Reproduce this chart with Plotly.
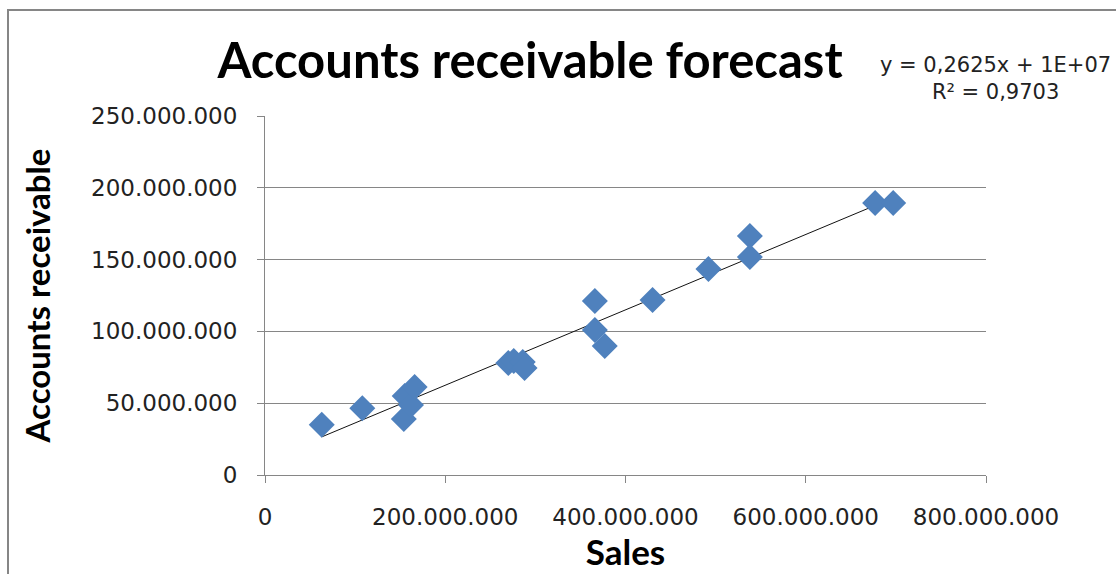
import plotly.graph_objects as go

# Sales vs accounts receivable observations
sales = [63e6, 108e6, 154e6, 155e6, 162e6, 166e6,
         270e6, 276e6, 286e6, 288e6,
         366e6, 366e6, 377e6, 430e6, 492e6,
         538e6, 538e6, 677e6, 697e6]
receivable = [35e6, 46.5e6, 39e6, 55e6, 48.7e6, 61.3e6,
              78e6, 79.4e6, 78.7e6, 74.5e6,
              121.2e6, 101e6, 89.8e6, 121.9e6, 143.5e6,
              166.4e6, 151.8e6, 189.4e6, 189.4e6]

# Linear trend reported on the chart
slope = 0.2625
intercept = 1e7
r_squared = 0.9703

x_ticks = [0, 200e6, 400e6, 600e6, 800e6]
y_ticks = [0, 50e6, 100e6, 150e6, 200e6, 250e6]

trend_x = [min(sales), max(sales)]
trend_y = [slope * v + intercept for v in trend_x]

fig = go.Figure()
fig.add_trace(go.Scatter(
    x=trend_x, y=trend_y, mode="lines",
    line=dict(color="#111111", width=1), hoverinfo="skip", showlegend=False))
fig.add_trace(go.Scatter(
    x=sales, y=receivable, mode="markers",
    marker=dict(symbol="diamond", size=20, color="#4F81BD",
                line=dict(width=0)),
    showlegend=False))

tick_font = dict(family="DejaVu Sans", size=23, color="#222222")
fig.update_layout(
    width=1116, height=574,
    margin=dict(l=265, r=130, t=116, b=99),
    paper_bgcolor="white", plot_bgcolor="white",
    separators=",.",
    title=dict(text="<b>Accounts receivable forecast</b>",
               font=dict(family="Lato", size=49, color="black"),
               x=530 / 1116, xanchor="center", y=1 - 61 / 574, yanchor="middle"),
    xaxis=dict(range=[0, 800e6], tickvals=x_ticks, tickformat=",.0f",
               showgrid=False, zeroline=False,
               showline=True, linecolor="#868686", linewidth=1,
               ticks="outside", ticklen=7, tickcolor="#868686",
               tickfont=tick_font, ticklabelstandoff=14,
               title=dict(text="<b>Sales</b>",
                          font=dict(family="Lato", size=35, color="black"),
                          standoff=8)),
    yaxis=dict(range=[0, 250e6], tickvals=y_ticks, tickformat=",.0f",
               showgrid=True, gridcolor="#868686", gridwidth=1,
               zeroline=False,
               showline=True, linecolor="#868686", linewidth=1,
               ticks="outside", ticklen=7, tickcolor="#868686",
               tickfont=tick_font, ticklabelstandoff=15,
               title=dict(text="<b>Accounts receivable</b>",
                          font=dict(family="Lato", size=33, color="black"),
                          standoff=30)),
    annotations=[
        dict(text="y = 0,2625x + 1E+07<br>R² = 0,9703",
             xref="paper", yref="paper",
             x=(995 - 265) / 721, y=(475 - 78) / 359,
             xanchor="center", yanchor="middle", showarrow=False,
             align="center",
             font=dict(family="DejaVu Sans", size=21, color="#222222")),
    ],
    shapes=[
        dict(type="rect", xref="paper", yref="paper",
             x0=(8 - 265) / 721, x1=(1130 - 265) / 721,
             y0=(475 - 590) / 359, y1=(475 - 10) / 359,
             line=dict(color="#868686", width=2), layer="below"),
    ],
)

fig.write_html("out.html")
